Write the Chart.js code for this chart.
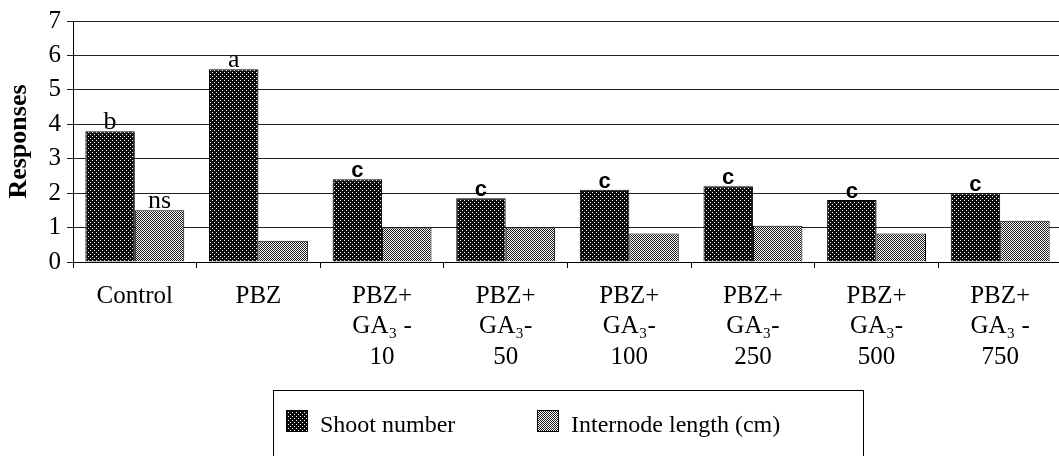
<!DOCTYPE html>
<html>
<head>
<meta charset="utf-8">
<script src="https://cdn.jsdelivr.net/npm/chart.js"></script>
<style>
  body { margin: 0; overflow: hidden; background: #fff; }
  #wrap { position: absolute; left: 0; top: 0; width: 1062px; height: 456px; }
</style>
</head>
<body>
<div id="wrap"><canvas id="myChart"></canvas></div>
<script>
// data
let categories = [
  ['Control'], ['PBZ'],
  ['PBZ+', 'GA\u2083 -', '10'], ['PBZ+', 'GA\u2083-', '50'], ['PBZ+', 'GA\u2083-', '100'],
  ['PBZ+', 'GA\u2083-', '250'], ['PBZ+', 'GA\u2083-', '500'], ['PBZ+', 'GA\u2083 -', '750']
]
let shootNumber = [3.8, 5.6, 2.4, 1.85, 2.1, 2.2, 1.8, 2.0]
let internodeLength = [1.5, 0.62, 1.0, 1.0, 0.83, 1.05, 0.83, 1.2]
let shootLetters = ['b', 'a', 'c', 'c', 'c', 'c', 'c', 'c']
let internodeLetters = ['ns', '', '', '', '', '', '', '']
let yTicks = [0, 1, 2, 3, 4, 5, 6, 7]

const serif = '"Liberation Serif", "Times New Roman", serif'

function makePattern(kind)
{
    let c = document.createElement('canvas')
    c.width = 4; c.height = 4
    let g = c.getContext('2d')
    if (kind == 'dark') {
        g.fillStyle = '#0c0c0c'
        g.fillRect(0, 0, 4, 4)
        g.fillStyle = '#ffffff'
        g.fillRect(0, 0, 1, 1)
        g.fillRect(2, 2, 1, 1)
    } else {
        g.fillStyle = '#ffffff'
        g.fillRect(0, 0, 4, 4)
        g.fillStyle = '#1a1a1a'
        for (let y = 0; y < 4; y++)
            for (let x = 0; x < 4; x++)
                if ((x + y) % 2 == 0) g.fillRect(x, y, 1, 1)
    }
    return document.getElementById('myChart').getContext('2d').createPattern(c, 'repeat')
}

const darkFill = makePattern('dark')
const lightFill = makePattern('light')

// letters over the bars
const letterPlugin = {
    id: 'letters',
    afterDatasetsDraw(chart) {
        const ctx = chart.ctx
        ctx.save()
        ctx.fillStyle = '#000'
        ctx.textAlign = 'center'
        ctx.textBaseline = 'alphabetic'
        const sets = [shootLetters, internodeLetters]
        sets.forEach((letters, di) => {
            const meta = chart.getDatasetMeta(di)
            meta.data.forEach((bar, i) => {
                const t = letters[i]
                if (!t) return
                if (t == 'c') ctx.font = 'bold 22px "Liberation Sans", Arial, sans-serif'
                else ctx.font = '26px ' + serif
                ctx.fillText(t, bar.x, bar.y - 2)
            })
        })
        ctx.restore()
    }
}

// boxed legend under the axis labels
const legendBox = {
    id: 'legendBox',
    afterDraw(chart) {
        const ctx = chart.ctx
        ctx.save()
        ctx.strokeStyle = '#000'
        ctx.lineWidth = 1
        ctx.strokeRect(273.5, 390.5, 590, 80)
        const xs = [286, 537]
        chart.data.datasets.forEach((ds, i) => {
            ctx.fillStyle = ds.backgroundColor
            ctx.fillRect(xs[i], 410, 22, 22)
            ctx.strokeRect(xs[i] + 0.5, 410.5, 21, 21)
            ctx.fillStyle = '#000'
            ctx.font = '24px ' + serif
            ctx.textAlign = 'left'
            ctx.textBaseline = 'middle'
            ctx.fillText(ds.label, xs[i] + 34, 426)
        })
        ctx.restore()
    }
}

const ctx = document.getElementById('myChart')
new Chart(ctx, {
    type: 'bar',
    data: {
        labels: categories,
        datasets: [{
            label: 'Shoot number',
            data: shootNumber,
            backgroundColor: darkFill,
            borderColor: '#000',
            borderWidth: 1,
            categoryPercentage: 0.8,
            barPercentage: 1.0
        }, {
            label: 'Internode length (cm)',
            data: internodeLength,
            backgroundColor: lightFill,
            borderColor: '#000',
            borderWidth: 1,
            categoryPercentage: 0.8,
            barPercentage: 1.0
        }]
    },
    options: {
        responsive: true,
        maintainAspectRatio: false,
        animation: false,
        layout: { padding: { top: 18, left: 0, right: 0, bottom: 0 } },
        plugins: {
            legend: { display: false },
            tooltip: { enabled: false }
        },
        scales: {
            x: {
                afterFit(scale) { scale.height = 194 },
                border: { color: '#000', width: 1 },
                grid: { drawOnChartArea: false, drawTicks: true, tickLength: 6, color: '#000' },
                ticks: {
                    color: '#000',
                    padding: 13,
                    maxRotation: 0,
                    autoSkip: false,
                    font: { family: serif, size: 25, lineHeight: 1.22 }
                }
            },
            y: {
                min: 0,
                max: 7,
                afterFit(scale) { scale.width = 73 },
                afterBuildTicks(scale) { scale.ticks = yTicks.map(v => ({ value: v })) },
                border: { color: '#000', width: 1 },
                grid: { color: '#222', lineWidth: 1, tickLength: 6, drawTicks: true },
                ticks: {
                    color: '#000',
                    padding: 6,
                    font: { family: serif, size: 25 }
                },
                title: {
                    display: true,
                    text: 'Responses',
                    color: '#000',
                    padding: { top: 4, bottom: 0 },
                    font: { family: serif, size: 26, weight: 'bold' }
                }
            }
        }
    },
    plugins: [letterPlugin, legendBox]
})
</script>
</body>
</html>
